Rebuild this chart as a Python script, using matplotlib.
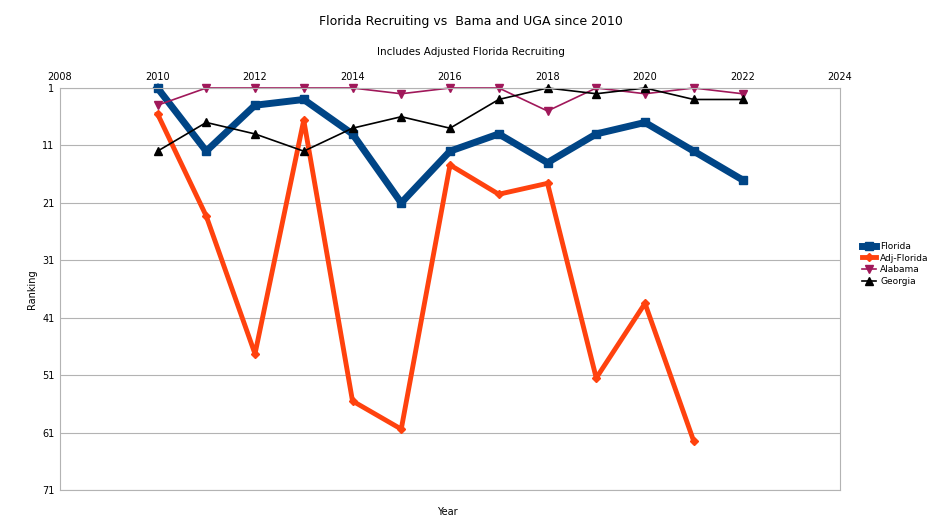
import matplotlib.pyplot as plt

years = [2010, 2011, 2012, 2013, 2014, 2015, 2016, 2017, 2018, 2019, 2020, 2021, 2022]
florida = [1, 12, 4, 3, 9, 21, 12, 9, 14, 9, 7, 12, 17]
adj_florida = [5.5, 23.3, 47.3, 6.6, 55.5, 60.4, 14.4, 19.5, 17.6, 51.5, 38.5, 62.5]
alabama = [4, 1, 1, 1, 1, 2, 1, 1, 5, 1, 2, 1, 2]
georgia = [12, 7, 9, 12, 8, 6, 8, 3, 1, 2, 1, 3, 3]

fig = plt.figure(figsize=(9.43, 5.30), dpi=100)
ax = fig.add_axes([60/943, 1-490/530, 780/943, 402/530])

ax.plot(years, florida, color='#004586', lw=5, marker='s', ms=6, label='Florida', clip_on=False)
ax.plot(years[:len(adj_florida)], adj_florida, color='#ff420e', lw=3.5, marker='D', ms=4, label='Adj-Florida', clip_on=False)
ax.plot(years, alabama, color='#a0185a', lw=1.2, marker='v', ms=6, label='Alabama', clip_on=False)
ax.plot(years, georgia, color='black', lw=1.2, marker='^', ms=6, label='Georgia', clip_on=False)

ax.set_xlim(2008, 2024)
ax.set_ylim(71, 1)
ax.set_xticks(range(2008, 2025, 2))
ax.set_yticks(range(1, 72, 10))
ax.xaxis.tick_top()
ax.tick_params(labelsize=7, length=0, pad=4)
ax.grid(axis='y', color='#b3b3b3', lw=0.8)
for s in ax.spines.values():
    s.set_color('#b3b3b3')
ax.set_axisbelow(True)

ax.set_ylabel('Ranking', fontsize=7)
fig.text(447/943, 1-512/530, 'Year', fontsize=7, ha='center', va='center')
fig.text(471/943, 1-22/530, 'Florida Recruiting vs  Bama and UGA since 2010', fontsize=9, ha='center', va='center')
fig.text(471/943, 1-52/530, 'Includes Adjusted Florida Recruiting', fontsize=7.5, ha='center', va='center')

fig.legend(loc='center left', bbox_to_anchor=(862/943, 1-264/530), frameon=False,
           fontsize=6.5, handlelength=1.6, handletextpad=0.4, labelspacing=0.3,
           borderaxespad=0, borderpad=0)

fig.savefig('out.png', dpi=100)
